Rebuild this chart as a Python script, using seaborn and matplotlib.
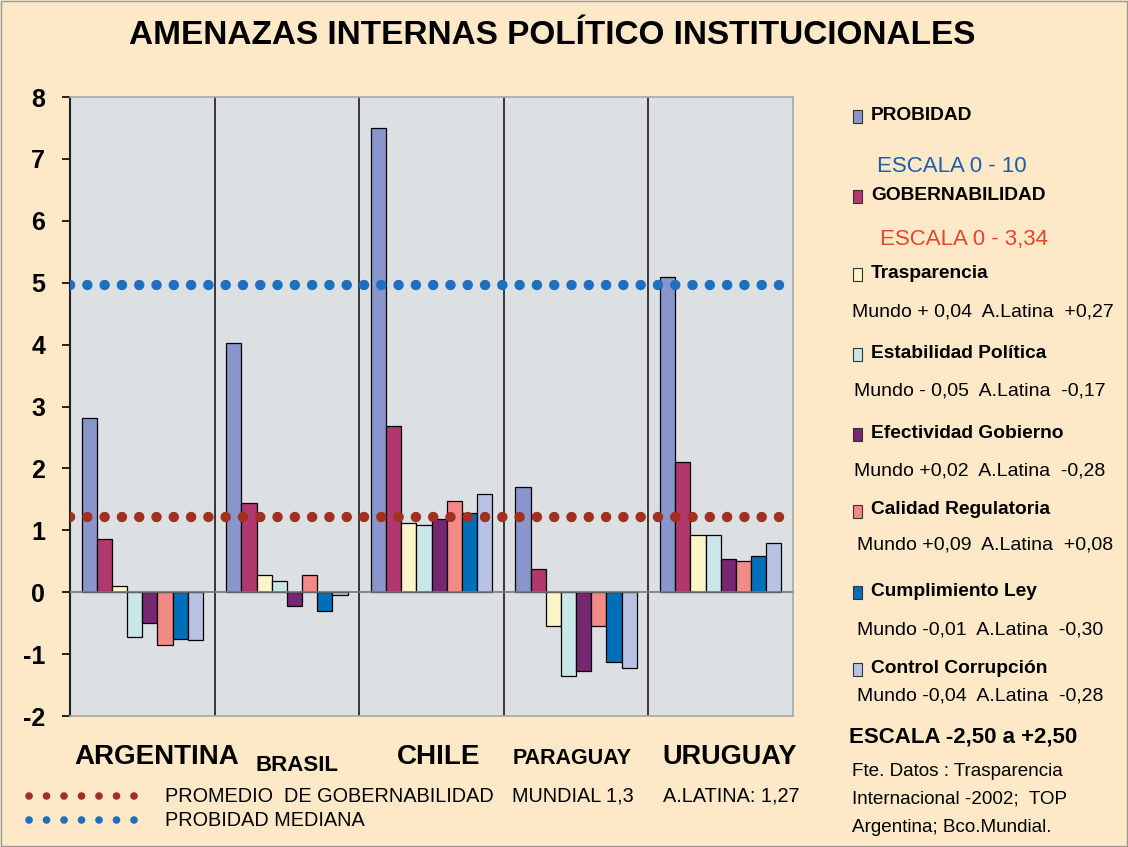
import matplotlib
matplotlib.use("Agg")
import matplotlib.pyplot as plt
from matplotlib.lines import Line2D
from matplotlib.patches import Rectangle
import seaborn as sns
import pandas as pd

# Datos
paises = ['ARGENTINA', 'BRASIL', 'CHILE', 'PARAGUAY', 'URUGUAY']
series = ['PROBIDAD', 'GOBERNABILIDAD', 'Trasparencia', 'Estabilidad Política',
          'Efectividad Gobierno', 'Calidad Regulatoria', 'Cumplimiento Ley', 'Control Corrupción']
probidad = [2.82, 4.02, 7.50, 1.70, 5.10]
gobernabilidad = [0.86, 1.44, 2.68, 0.38, 2.10]
trasparencia = [0.10, 0.27, 1.12, -0.55, 0.93]
estabilidad = [-0.73, 0.18, 1.08, -1.35, 0.93]
efectividad = [-0.50, -0.22, 1.18, -1.28, 0.53]
calidad = [-0.85, 0.27, 1.48, -0.55, 0.50]
cumplimiento = [-0.75, -0.30, 1.28, -1.12, 0.58]
control = [-0.77, -0.05, 1.58, -1.22, 0.80]
promedio_gob = 1.22
probidad_mediana = 4.97
yticks = [-2, -1, 0, 1, 2, 3, 4, 5, 6, 7, 8]

colores = ['#8896CC', '#B0386E', '#FBF5C8', '#C9E6E8', '#772672', '#F28A85', '#006FBA', '#B8C2E2']

notas = [
    'Mundo + 0,04  A.Latina  +0,27',
    'Mundo - 0,05  A.Latina  -0,17',
    'Mundo +0,02  A.Latina  -0,28',
    'Mundo +0,09  A.Latina  +0,08',
    'Mundo -0,01  A.Latina  -0,30',
    'Mundo -0,04  A.Latina  -0,28',
]

valores = [probidad, gobernabilidad, trasparencia, estabilidad,
           efectividad, calidad, cumplimiento, control]
rows = []
for s, vals in zip(series, valores):
    for p, v in zip(paises, vals):
        rows.append({'pais': p, 'serie': s, 'valor': v})
df = pd.DataFrame(rows)

sns.set_style('white')
plt.rcParams['font.family'] = ['Liberation Sans', 'DejaVu Sans']
plt.rcParams['text.color'] = 'black'
plt.rcParams['ytick.color'] = 'black'

W, H = 1128, 847
fig = plt.figure(figsize=(W / 100, H / 100), dpi=100)
fig.patch.set_facecolor('#FDE9C8')
ax = fig.add_axes([70 / W, 1 - 716 / H, (793 - 70) / W, (716 - 97) / H])
ax.set_facecolor('#DDE0E3')

sns.barplot(data=df, x='pais', y='valor', hue='serie', palette=colores, saturation=1,
            width=0.84, edgecolor='black', linewidth=0.9, errorbar=None,
            legend=False, ax=ax, zorder=3)

ax.set_ylim(-2, 8)
ax.set_xlim(-0.5, len(paises) - 0.5)
ax.set_yticks(yticks)
ax.set_yticklabels([str(t) for t in yticks], fontsize=18, fontweight='bold')
ax.set_xticks([])
ax.set_xlabel('')
ax.set_ylabel('')
ax.tick_params(axis='y', length=6, width=1.2, direction='out', pad=12, left=True)

for i in range(len(paises) - 1):
    ax.axvline(i + 0.5, color='#2a2a2a', lw=1.3, zorder=2)
ax.axhline(0, color='#777777', lw=1.2, zorder=4)

dot_kw = dict(lw=7.5, linestyle=(0, (0.01, 1.65)), dash_capstyle='round', zorder=5)
ax.axhline(probidad_mediana, color='#1E6FBF', **dot_kw)
ax.axhline(promedio_gob, color='#A0301F', **dot_kw)

for side in ['top', 'right', 'bottom']:
    ax.spines[side].set_color('#a8a8a8')
    ax.spines[side].set_linewidth(1.2)
ax.spines['left'].set_color('#222222')
ax.spines['left'].set_linewidth(1.5)

# titulo
fig.text(552 / W, 1 - 36 / H, 'AMENAZAS INTERNAS POLÍTICO INSTITUCIONALES',
         ha='center', va='center', fontsize=24, fontweight='bold')

# nombres de paises
pos_paises = [(157, 757, 20), (297, 765, 16), (439, 757, 20), (572, 758, 15.5), (730, 757, 19.5)]
for nombre, (x, y, fs) in zip(paises, pos_paises):
    fig.text(x / W, 1 - y / H, nombre, ha='center', va='center',
             fontsize=fs, fontweight='bold')

# leyenda inferior
for y, c in [(796, '#A0301F'), (820, '#1E6FBF')]:
    fig.add_artist(Line2D([29 / W, 136 / W], [1 - y / H] * 2, color=c,
                          transform=fig.transFigure, lw=5.5, linestyle=(0, (0.01, 2.28)),
                          dash_capstyle='round'))
fig.text(165 / W, 1 - 796 / H, 'PROMEDIO  DE GOBERNABILIDAD', va='center', fontsize=14.3)
fig.text(512 / W, 1 - 796 / H, 'MUNDIAL 1,3', va='center', fontsize=14.3)
fig.text(663 / W, 1 - 796 / H, 'A.LATINA: 1,27', va='center', fontsize=14.3)
fig.text(165 / W, 1 - 820 / H, 'PROBIDAD MEDIANA', va='center', fontsize=14.3)

# leyenda derecha
leg_y = [115, 195, 273, 353, 433, 510, 591, 668]
for s, c, y in zip(series, colores, leg_y):
    fig.add_artist(Rectangle((853 / W, 1 - (y + 8) / H), 9 / W, 13 / H, facecolor=c,
                             edgecolor='#333333', lw=0.8, transform=fig.transFigure))
    fig.text(871 / W, 1 - y / H, s, va='center', fontsize=13.8, fontweight='bold')

fig.text(877 / W, 1 - 167 / H, 'ESCALA 0 - 10', va='center', fontsize=16, color='#1F5BAA')
fig.text(880 / W, 1 - 239 / H, 'ESCALA 0 - 3,34', va='center', fontsize=16, color='#E8442E')
nota_pos = [(852, 312), (854, 391), (854, 471), (857, 545), (857, 630), (857, 696)]
for txt, (x, y) in zip(notas, nota_pos):
    fig.text(x / W, 1 - y / H, txt, va='center', fontsize=14)
fig.text(849 / W, 1 - 737 / H, 'ESCALA -2,50 a +2,50', va='center', fontsize=16, fontweight='bold')
fuente = ['Fte. Datos : Trasparencia', 'Internacional -2002;  TOP', 'Argentina; Bco.Mundial.']
for i, linea in enumerate(fuente):
    fig.text(852 / W, 1 - (771 + 28 * i) / H, linea, va='center', fontsize=13.6)

fig.add_artist(Rectangle((0.001, 0.001), 0.998, 0.998, fill=False, edgecolor='#999999',
                         lw=1, transform=fig.transFigure))

fig.savefig('out.png', dpi=100, facecolor=fig.get_facecolor())
